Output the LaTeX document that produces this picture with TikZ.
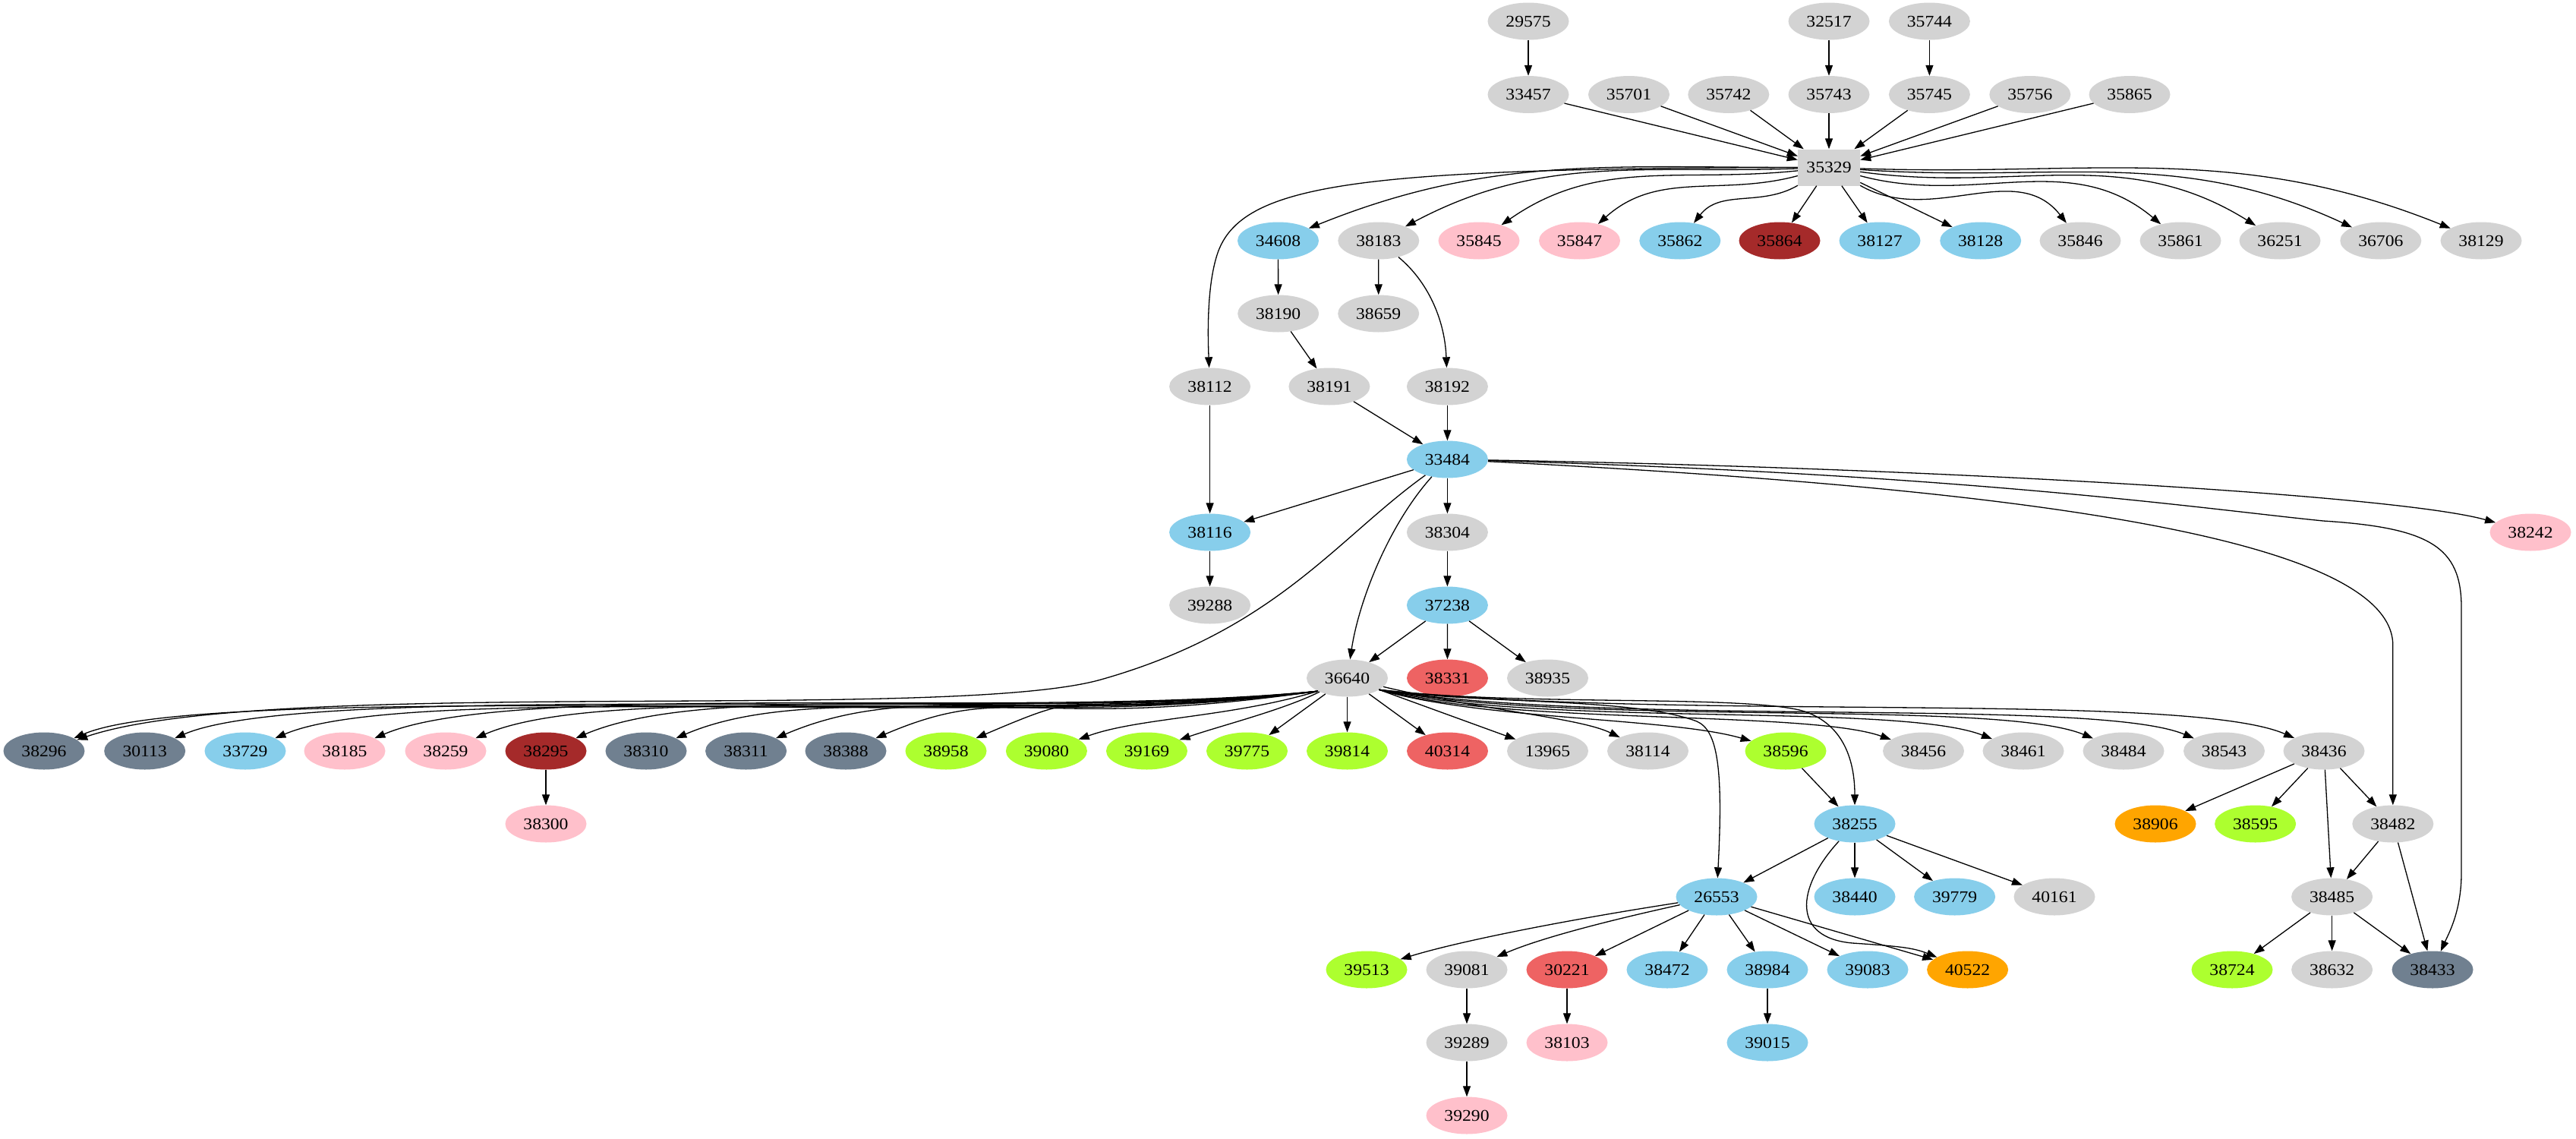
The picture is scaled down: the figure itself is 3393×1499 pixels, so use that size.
\documentclass[tikz,border=0pt]{standalone}
\usepackage{fontspec}
\newfontfamily\nf[FakeStretch=1.1]{Liberation Serif}
\usetikzlibrary{shapes.geometric,arrows.meta}
\definecolor{cg}{HTML}{D3D3D3}
\definecolor{cb}{HTML}{87CEEB}
\definecolor{cp}{HTML}{FFC0CB}
\definecolor{cbr}{HTML}{A52A2A}
\definecolor{cs}{HTML}{708090}
\definecolor{cy}{HTML}{ADFF2F}
\definecolor{cr}{HTML}{EE6363}
\definecolor{co}{HTML}{FFA500}
\tikzset{
  nd/.style={ellipse, minimum width=107pt, minimum height=49pt, inner sep=0pt, font=\nf\fontsize{21.5}{22}\selectfont},
  ng/.style={nd, fill=cg},
  nb/.style={nd, fill=cb},
  np/.style={nd, fill=cp},
  nbr/.style={nd, fill=cbr},
  ns/.style={nd, fill=cs},
  ny/.style={nd, fill=cy},
  nr/.style={nd, fill=cr},
  nor/.style={nd, fill=co},
  boxnode/.style={rectangle, minimum width=82pt, minimum height=48pt, inner sep=0pt, fill=cg, font=\nf\fontsize{21.5}{22}\selectfont},
  arr/.style={line width=1.3pt, -{Triangle[length=14pt,width=10pt]}},
}
\newcommand\mynode[4]{\node[#1] (n#2) at (#3,-#4) {#2};}
\newcommand\myedge[2]{\draw[arr] (n#1) -- (n#2);}
\newcommand\lfan[3]{\draw[arr] (n36640.204) .. controls (1350,-#3) and (#2+220,-895) .. (n#1);}
\newcommand\rfan[3]{\draw[arr] (n36640.-20) .. controls (#3) and (#2) .. (n#1);}
\begin{document}
\begin{tikzpicture}[x=1pt,y=1pt]
\fill[white] (0,0) rectangle (3393,-1499);
\useasboundingbox (0,0) rectangle (3393,-1499);
% row 1
\mynode{ng}{29575}{2013}{28}
\mynode{ng}{32517}{2409}{28}
\mynode{ng}{35744}{2541.4}{28}
% row 2
\mynode{ng}{33457}{2013}{124.5}
\mynode{ng}{35701}{2145.5}{124.5}
\mynode{ng}{35742}{2276.8}{124.5}
\mynode{ng}{35743}{2409}{124.5}
\mynode{ng}{35745}{2541.4}{124.5}
\mynode{ng}{35756}{2673.8}{124.5}
\mynode{ng}{35865}{2805}{124.5}
% row 3
\node[boxnode] (n35329) at (2409,-220.5) {35329};
% row 4
\mynode{nb}{34608}{1683.5}{317}
\mynode{ng}{38183}{1815.8}{317}
\mynode{np}{35845}{1948}{317}
\mynode{np}{35847}{2080.5}{317}
\mynode{nb}{35862}{2212.8}{317}
\mynode{nbr}{35864}{2344}{317}
\mynode{nb}{38127}{2476}{317}
\mynode{nb}{38128}{2608.7}{317}
\mynode{ng}{35846}{2740}{317}
\mynode{ng}{35861}{2872}{317}
\mynode{ng}{36251}{3003}{317}
\mynode{ng}{36706}{3135.8}{317}
\mynode{ng}{38129}{3268}{317}
% row 5
\mynode{ng}{38190}{1683.7}{413}
\mynode{ng}{38659}{1815.7}{413}
% row 6
\mynode{ng}{38112}{1593.6}{509}
\mynode{ng}{38191}{1750.9}{509}
\mynode{ng}{38192}{1906.4}{509}
% row 7
\mynode{nb}{33484}{1906.4}{605}
% row 8
\mynode{nb}{38116}{1593.6}{701}
\mynode{ng}{38304}{1906.4}{701}
\mynode{np}{38242}{3333}{701}
% row 9
\mynode{ng}{39288}{1593.6}{797}
\mynode{nb}{37238}{1906.4}{797}
% row 10
\mynode{ng}{36640}{1774.5}{893}
\mynode{nr}{38331}{1906.5}{893}
\mynode{ng}{38935}{2038.5}{893}
% row 11
\mynode{ns}{38296}{58}{989}
\mynode{ns}{30113}{190.7}{989}
\mynode{nb}{33729}{323}{989}
\mynode{np}{38185}{454}{989}
\mynode{np}{38259}{587}{989}
\mynode{nbr}{38295}{719}{989}
\mynode{ns}{38310}{851}{989}
\mynode{ns}{38311}{982.6}{989}
\mynode{ns}{38388}{1114}{989}
\mynode{ny}{38958}{1246}{989}
\mynode{ny}{39080}{1378.4}{989}
\mynode{ny}{39169}{1510.5}{989}
\mynode{ny}{39775}{1642.5}{989}
\mynode{ny}{39814}{1774.5}{989}
\mynode{nr}{40314}{1906.5}{989}
\mynode{ng}{13965}{2038.5}{989}
\mynode{ng}{38114}{2170.5}{989}
\mynode{ny}{38596}{2352}{989}
\mynode{ng}{38456}{2533.5}{989}
\mynode{ng}{38461}{2665}{989}
\mynode{ng}{38484}{2797}{989}
\mynode{ng}{38543}{2929.5}{989}
\mynode{ng}{38436}{3061}{989}
% row 12
\mynode{np}{38300}{719}{1085}
\mynode{nb}{38255}{2443}{1085}
\mynode{nor}{38906}{2839}{1085}
\mynode{ny}{38595}{2970.6}{1085}
\mynode{ng}{38482}{3151.8}{1085}
% row 13
\mynode{nb}{26553}{2261}{1181}
\mynode{nb}{38440}{2443}{1181}
\mynode{nb}{39779}{2574.6}{1181}
\mynode{ng}{40161}{2706}{1181}
\mynode{ng}{38485}{3071.6}{1181}
% row 14
\mynode{ny}{39513}{1800}{1277}
\mynode{ng}{39081}{1932}{1277}
\mynode{nr}{30221}{2064}{1277}
\mynode{nb}{38472}{2196}{1277}
\mynode{nb}{38984}{2328}{1277}
\mynode{nb}{39083}{2460}{1277}
\mynode{nor}{40522}{2591.6}{1277}
\mynode{ny}{38724}{2940}{1277}
\mynode{ng}{38632}{3071.6}{1277}
\mynode{ns}{38433}{3204}{1277}
% row 15
\mynode{ng}{39289}{1932}{1373}
\mynode{np}{38103}{2064}{1373}
\mynode{nb}{39015}{2328}{1373}
% row 16
\mynode{np}{39290}{1932}{1469}

% ---- edges: top
\myedge{29575}{33457}
\myedge{32517}{35743}
\myedge{35744}{35745}
\myedge{33457}{35329}
\myedge{35701}{35329}
\myedge{35742}{35329}
\myedge{35743}{35329}
\myedge{35745}{35329}
\myedge{35756}{35329}
\myedge{35865}{35329}
% 35329 fan
\draw[arr] (n35329.west) .. controls (1800,-222) and (1640,-240) .. (1605,-330) .. controls (1592,-365) and (1590,-420) .. (n38112);
\draw[arr] (n35329) to[out=180,in=22] (n34608);
\draw[arr] (n35329) to[out=182,in=28] (n38183);
\draw[arr] (n35329) to[out=186,in=35] (n35845);
\draw[arr] (n35329) to[out=195,in=42] (n35847);
\draw[arr] (n35329) to[out=210,in=52] (n35862);
\myedge{35329}{35864}
\myedge{35329}{38127}
\myedge{35329}{38128}
\draw[arr] (n35329) to[out=-30,in=128] (n35846);
\draw[arr] (n35329) to[out=-15,in=140] (n35861);
\draw[arr] (n35329) to[out=-8,in=148] (n36251);
\draw[arr] (n35329) to[out=-4,in=155] (n36706);
\draw[arr] (n35329) to[out=-2,in=158] (n38129);
% middle
\myedge{34608}{38190}
\myedge{38183}{38659}
\draw[arr] (n38183) .. controls (1880,-370) and (1903,-420) .. (n38192);
\myedge{38190}{38191}
\myedge{38191}{33484}
\myedge{38192}{33484}
\myedge{38112}{38116}
\myedge{33484}{38116}
\myedge{33484}{38304}
\myedge{38116}{39288}
\myedge{38304}{37238}
\draw[arr] (n33484) .. controls (1830,-690) and (1790,-790) .. (n36640);
\draw[arr] (n33484) .. controls (1760,-710) and (1680,-830) .. (1450,-895) .. controls (1250,-951.5) and (350,-890) .. (n38296);
\draw[arr] (n33484) .. controls (2500,-615) and (3150,-650) .. (n38242);
\draw[arr] (n33484) .. controls (2600,-640) and (3151.8,-700) .. (3151.8,-850) -- (n38482);
\draw[arr] (n33484) .. controls (2600,-625) and (2900,-670) .. (3060,-686) .. controls (3200,-695) and (3242,-720) .. (3242,-800) -- (3242,-1150) .. controls (3242,-1200) and (3225,-1230) .. (n38433);
\myedge{37238}{36640}
\myedge{37238}{38331}
\myedge{37238}{38935}
% 36640 left fan
\lfan{38296}{58}{958}
\lfan{30113}{190.7}{952}
\lfan{33729}{323}{962}
\lfan{38185}{454}{948}
\lfan{38259}{587}{958}
\lfan{38295}{719}{950}
\lfan{38310}{851}{962}
\lfan{38311}{982.6}{955}
\lfan{38388}{1114}{965}
\lfan{38958}{1246}{955}
\draw[arr] (n36640.204) .. controls (1620,-945) and (1500,-945) .. (n39080);
\draw[arr] (n36640) .. controls (1690,-935) and (1610,-955) .. (n39169);
\myedge{36640}{39775}
\myedge{36640}{39814}
\myedge{36640}{40314}
\myedge{36640}{13965}
\draw[arr] (n36640) .. controls (1950,-935) and (2080,-945) .. (n38114);
% 36640 right fan
\draw[arr] (n36640.-20) .. controls (1950,-928) and (2150,-918) .. (2235,-950) .. controls (2262,-962) and (2270,-1010) .. (n26553);
\draw[arr] (n36640.-20) .. controls (2000,-930) and (2280,-915) .. (2370,-935) .. controls (2420,-948) and (2443,-990) .. (n38255);
\rfan{38596}{2200,-945}{1950,-948}
\rfan{38456}{2380,-935}{1980,-955}
\rfan{38461}{2500,-925}{2030,-958}
\rfan{38484}{2630,-920}{2080,-958}
\rfan{38543}{2760,-918}{2130,-958}
\rfan{38436}{2880,-910}{2200,-950}
% lower
\myedge{38295}{38300}
\myedge{38596}{38255}
\myedge{38255}{26553}
\myedge{38255}{38440}
\myedge{38255}{39779}
\myedge{38255}{40161}
\draw[arr] (n38255) .. controls (2365,-1170) and (2360,-1235) .. (2440,-1242) .. controls (2500,-1246) and (2520,-1248) .. (n40522);
\myedge{38436}{38906}
\myedge{38436}{38595}
\myedge{38436}{38482}
\myedge{38436}{38485}
\myedge{38482}{38485}
\myedge{38482}{38433}
\myedge{38485}{38724}
\myedge{38485}{38632}
\myedge{38485}{38433}
\draw[arr] (n26553) .. controls (2060,-1212) and (1920,-1240) .. (n39513);
\draw[arr] (n26553) .. controls (2120,-1212) and (2030,-1235) .. (n39081);
\myedge{26553}{30221}
\myedge{26553}{38472}
\myedge{26553}{38984}
\myedge{26553}{39083}
\myedge{26553}{40522}
\myedge{39081}{39289}
\myedge{39289}{39290}
\myedge{30221}{38103}
\myedge{38984}{39015}
\end{tikzpicture}
\end{document}
